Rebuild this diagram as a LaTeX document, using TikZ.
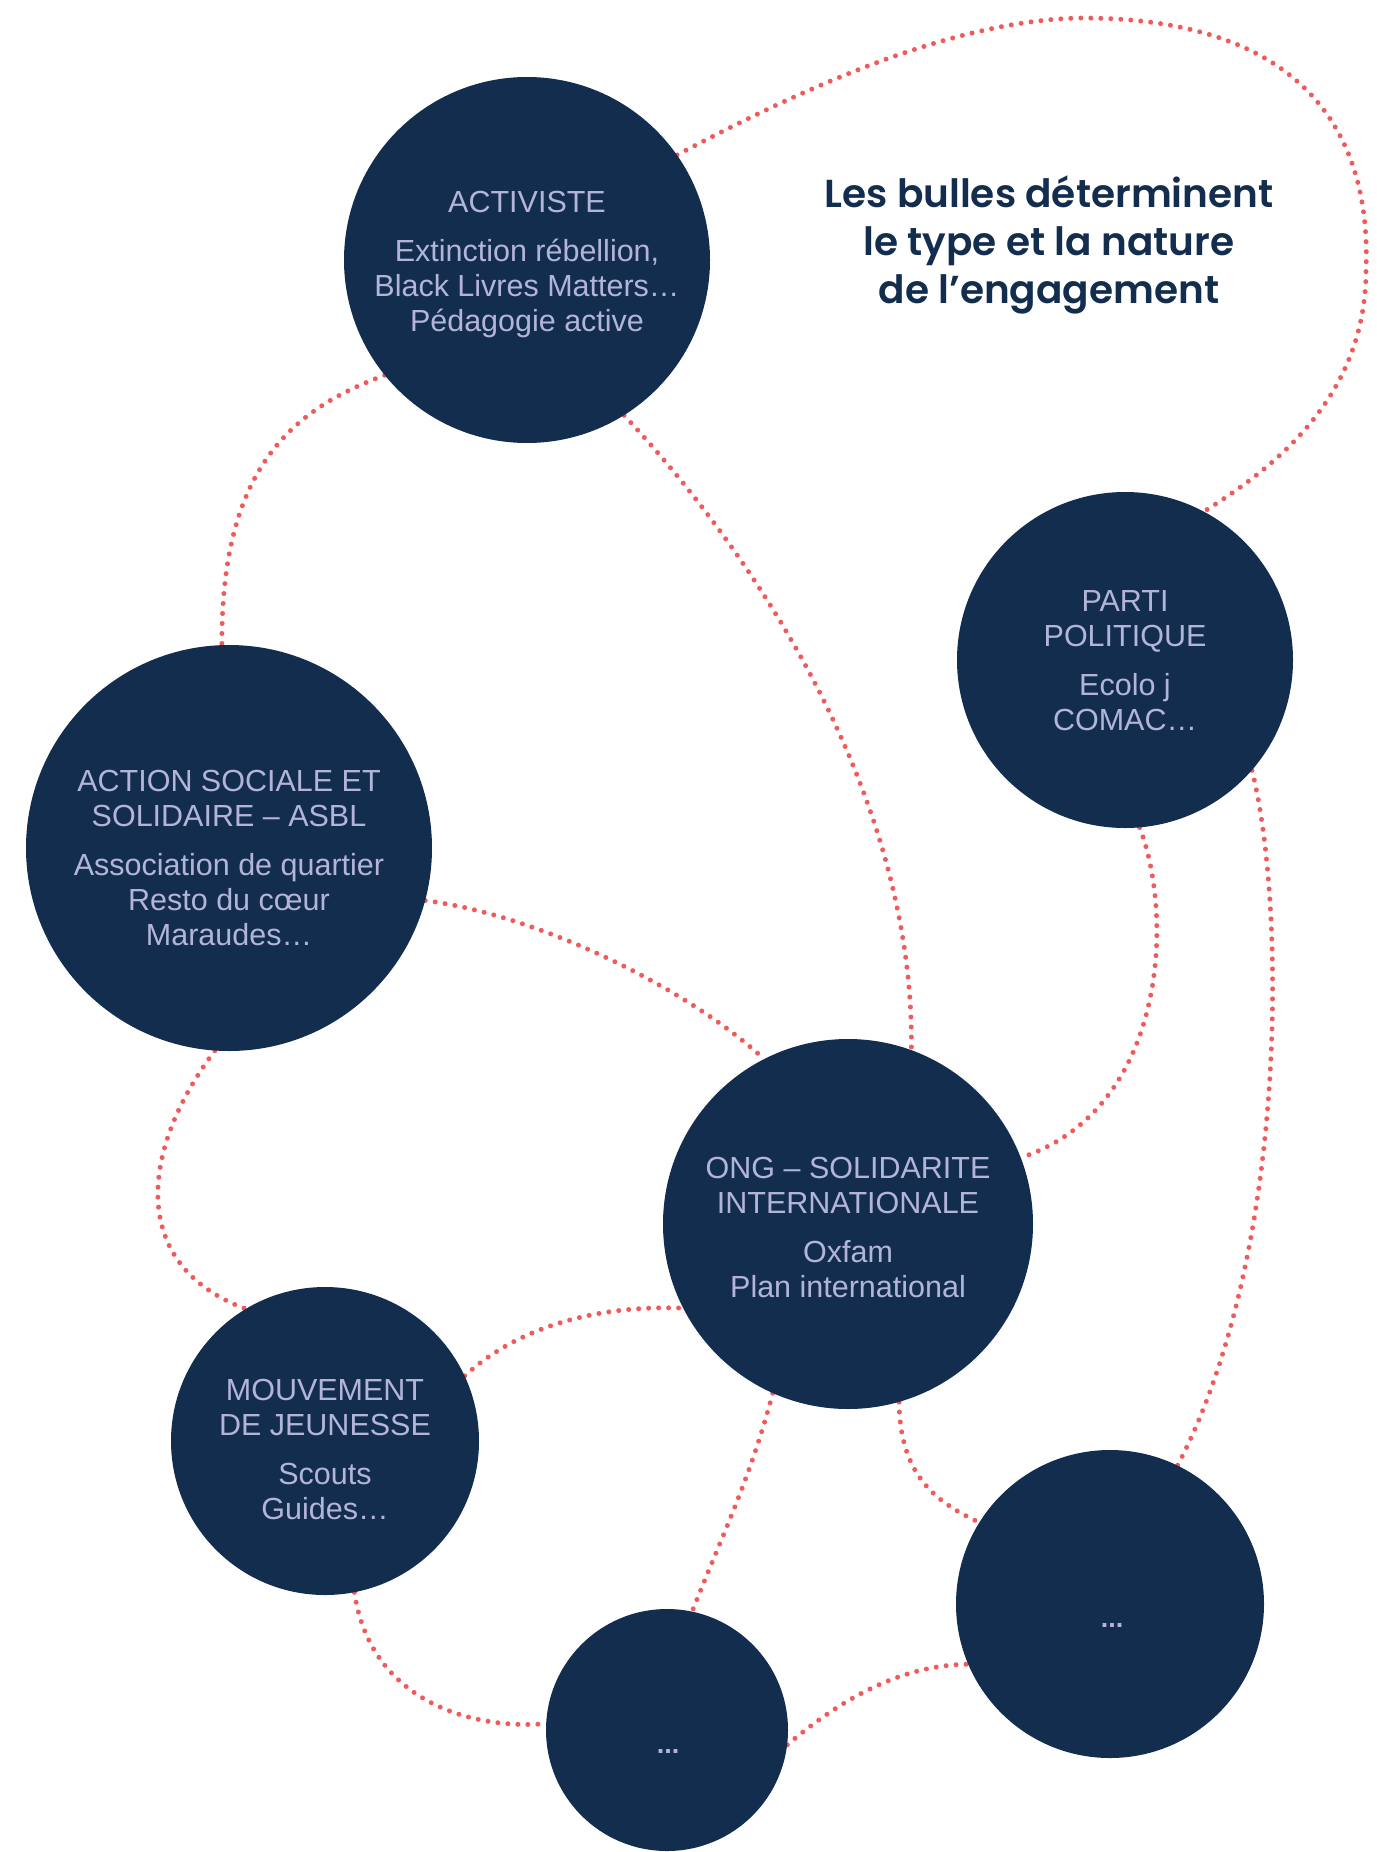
\documentclass[tikz,border=0pt]{standalone}
\usepackage{fontspec}
\setmainfont{Liberation Sans}
\newfontfamily\titlefont{Poppins SemiBold}
\definecolor{navy}{HTML}{132D4F}
\definecolor{coral}{HTML}{EF5A5A}
\definecolor{lav}{HTML}{B3B4DA}
\pgfdeclarelayer{bg}
\pgfsetlayers{bg,main}
\begin{document}
\begin{tikzpicture}[x=1pt,y=-1pt,
  bubble/.style={circle,fill=navy,inner sep=0pt},
  btext/.style={align=center,text=lav,inner sep=0pt,font=\fontsize{30.5}{35}\selectfont},
  ellip/.style={inner sep=0pt,text=lav,font=\bfseries\fontsize{27}{30}\selectfont},
  link/.style={draw=coral,line width=5pt,line cap=round,dash pattern=on 0pt off 10pt}]
\useasboundingbox (0,0) rectangle (1376,1852);

\node[bubble,minimum size=366pt,
  label={[btext,yshift=-5pt]center:{ACTIVISTE\\[14pt]Extinction rébellion,\\Black Livres Matters…\\Pédagogie active}}] (act) at (527,260) {};
\node[bubble,minimum size=406pt,
  label={[btext,yshift=-10pt]center:{ACTION SOCIALE ET\\SOLIDAIRE – ASBL\\[14pt]Association de quartier\\Resto du cœur\\Maraudes…}}] (soc) at (229,848) {};
\node[bubble,minimum size=336pt,
  label={[btext,yshift=-1pt]center:{PARTI\\POLITIQUE\\[14pt]Ecolo j\\COMAC…}}] (parti) at (1125,660) {};
\node[bubble,minimum size=370pt,
  label={[btext,yshift=-3pt]center:{ONG – SOLIDARITE\\INTERNATIONALE\\[14pt]Oxfam\\Plan international}}] (ong) at (848,1224) {};
\node[bubble,minimum size=308pt,
  label={[btext,yshift=-8pt]center:{MOUVEMENT\\DE JEUNESSE\\[14pt]Scouts\\Guides…}}] (mouv) at (325,1441) {};
\node[bubble,minimum size=242pt] (dotsb) at (667,1730) {};
\node[bubble,minimum size=308pt] (dotsr) at (1110,1604) {};
\node[ellip] (dotsbt) at (668,1751) {...};
\node[ellip] (dotsrt) at (1112,1625) {...};

\node[align=center,text=navy,font=\titlefont\fontsize{39}{48}\selectfont] (title) at (1049,245)
  {Les bulles déterminent\\le type et la nature\\de l’engagement};

\begin{pgfonlayer}{bg}
\draw[link] (act.35) .. controls (800,90) and (950,20) .. (1082,18)
  .. controls (1290,18) and (1372,120) .. (1366,270)
  .. controls (1366,400) and (1270,470) .. (parti.62);
\draw[link] (act.219) .. controls (290,410) and (221,470) .. (soc.92);
\draw[link] (act.-58) .. controls (760,560) and (915,800) .. (ong.70);
\draw[link] (soc.-15) .. controls (540,915) and (690,990) .. (ong.117);
\draw[link] (soc.-94) .. controls (140,1150) and (128,1265) .. (mouv.121);
\draw[link] (mouv.25) .. controls (520,1325) and (600,1305) .. (ong.-153);
\draw[link] (mouv.-79) .. controls (370,1700) and (470,1730) .. (dotsb.177);
\draw[link] (ong.-114) .. controls (750,1480) and (720,1540) .. (dotsb.78);
\draw[link] (ong.-74) .. controls (900,1470) and (930,1500) .. (dotsr.148);
\draw[link] (dotsb.-7) .. controls (840,1700) and (900,1665) .. (dotsr.-157);
\draw[link] (parti.-85) .. controls (1175,920) and (1165,1110) .. (ong.21);
\draw[link] (parti.-41) .. controls (1285,900) and (1290,1250) .. (dotsr.64);
\end{pgfonlayer}
\end{tikzpicture}
\end{document}
